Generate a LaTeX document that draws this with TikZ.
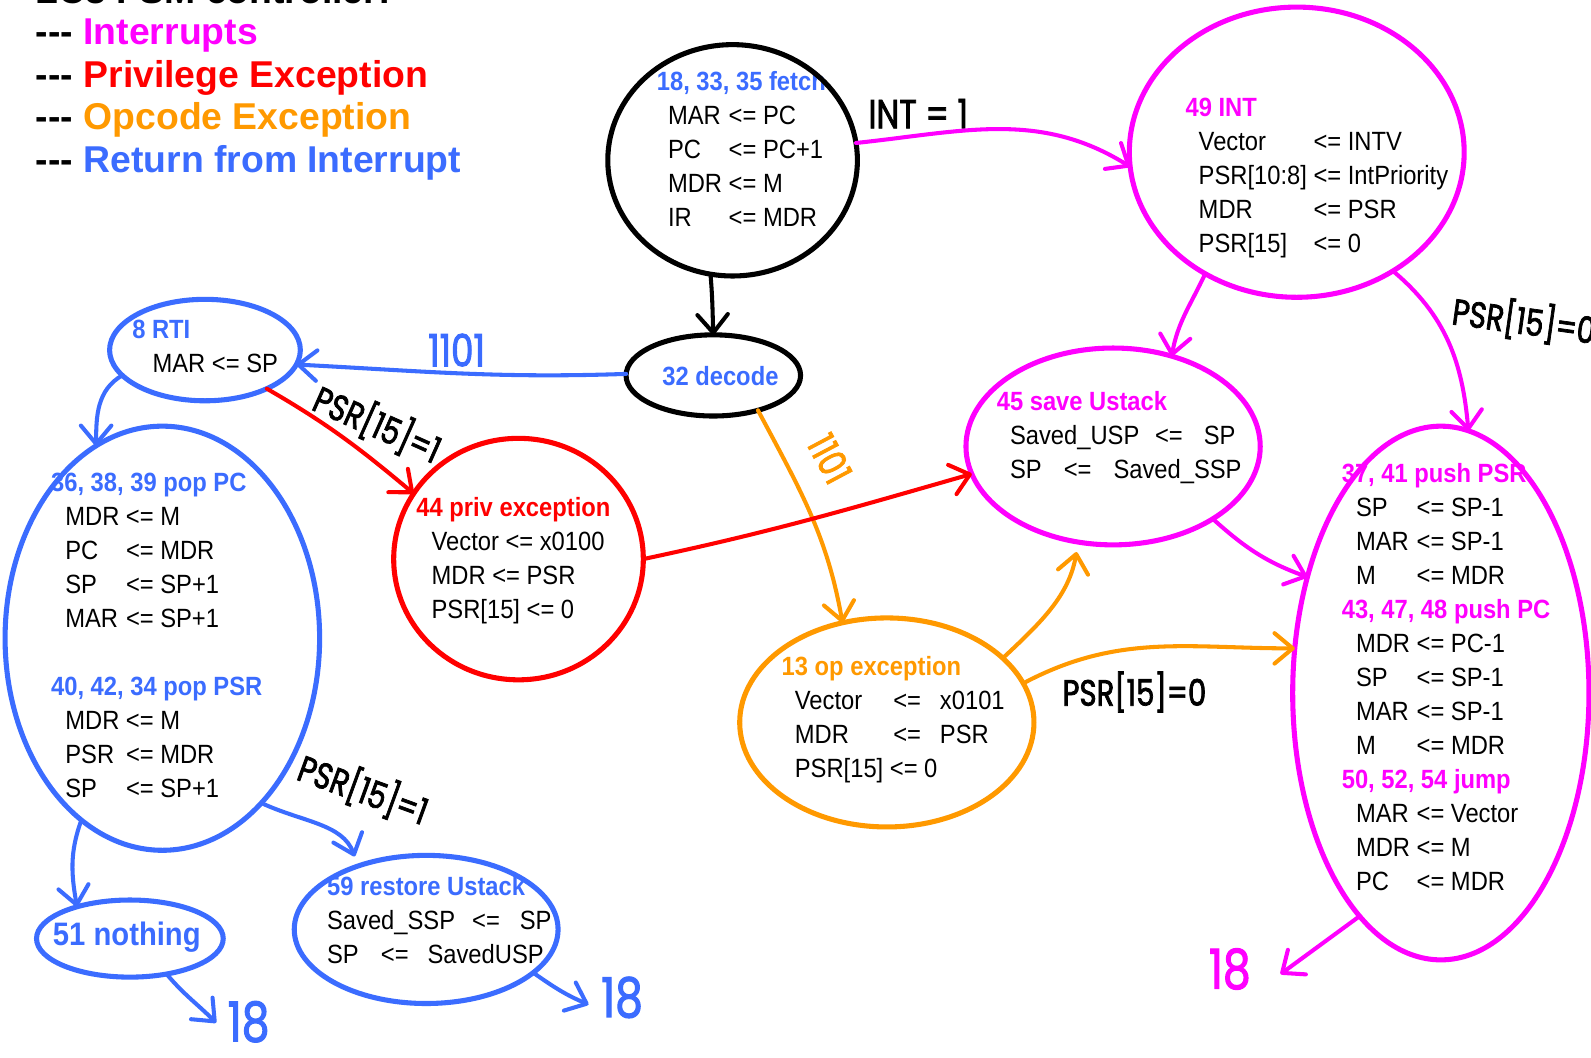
\documentclass[tikz,border=0pt]{standalone}
\usepackage{fontspec}
\setmainfont{Liberation Sans}[FakeStretch=0.9]
\newfontfamily\legendfont{Liberation Sans}
\newfontfamily\handfont{Poppins}[FakeStretch=0.8,FakeBold=2]
\usetikzlibrary{shapes.geometric,arrows.meta}
\definecolor{cmag}{RGB}{255,0,255}
\definecolor{cred}{RGB}{255,0,0}
\definecolor{corg}{RGB}{255,153,0}
\definecolor{cblu}{RGB}{59,108,255}
\newcommand\bodyfont{\fontsize{13}{16.75}\selectfont}
\newcommand\hd[2]{\textcolor{#1}{\bfseries #2}}
\newcommand\asg[5]{\makebox[#1][l]{#3}\makebox[#2][l]{#4}#5}
\newcommand\dashes{-\kern0pt-\kern0pt-}
\begin{document}
\begin{tikzpicture}[x=0.5pt,y=-0.5pt,
  fsm/.style={ellipse, draw=#1, line width=2.5pt, inner sep=0pt, outer sep=0pt},
  body/.style={inner sep=0pt, anchor=base west, font=\bodyfont},
  conn/.style={draw=#1, line width=2pt, line cap=round, line join=round,
    -{Straight Barb[length=9pt,width=15pt,round]}},
  hw/.style={inner sep=0pt, font=\handfont\fontsize{#1}{#1}\selectfont},
  legend/.style={inner sep=0pt, anchor=base west, font=\legendfont\bfseries\fontsize{18.4}{21}\selectfont}]
\useasboundingbox (0,0) rectangle (1568,1042);
\fill[white] (0,0) rectangle (1568,1042);

% legend
\node[legend] (title) at (35,3) {LC3 FSM controller:};
\node[legend] (lgint) at (35,44.3) {\dashes\ \textcolor{cmag}{Interrupts}};
\node[legend] (lgpriv) at (35,86.7) {\dashes\ \textcolor{cred}{Privilege Exception}};
\node[legend] (lgop) at (35,128.1) {\dashes\ \textcolor{corg}{Opcode Exception}};
\node[legend] (lgrti) at (35,170.5) {\dashes\ \textcolor{cblu}{Return from Interrupt}};

% state contents
\node[body] (fetchtx) at (647,89) {\begin{tabular}[t]{@{\hspace{5.5pt}}l@{ }l@{}}
\multicolumn{2}{@{}l@{}}{\hd{cblu}{18, 33, 35 fetch}}\\
MAR & <= PC\\ PC & <= PC+1\\ MDR & <= M\\ IR & <= MDR
\end{tabular}};

\node[body] (inttx) at (1168,115) {\begin{tabular}[t]{@{\hspace{6.5pt}}l@{ }l@{}}
\multicolumn{2}{@{}l@{}}{\hd{cmag}{49 INT}}\\
Vector & <= INTV\\ PSR[10:8] & <= IntPriority\\ MDR & <= PSR\\ PSR[15] & <= 0
\end{tabular}};

\node[inner sep=0pt, font=\bodyfont\bfseries, text=cblu] (dectx) at (710,371) {32 decode};

\node[body] (rtitx) at (130,334) {\begin{tabular}[t]{@{\hspace{10pt}}l@{}}
\multicolumn{1}{@{}l@{}}{\hd{cblu}{8 RTI}}\\
MAR <= SP
\end{tabular}};

\node[body] (poptx) at (50,484) {\begin{tabular}[t]{@{\hspace{7pt}}l@{ }l@{}}
\multicolumn{2}{@{}l@{}}{\hd{cblu}{36, 38, 39 pop PC}}\\
MDR & <= M\\ PC & <= MDR\\ SP & <= SP+1\\ MAR & <= SP+1\\
\multicolumn{2}{@{}l@{}}{}\\
\multicolumn{2}{@{}l@{}}{\hd{cblu}{40, 42, 34 pop PSR}}\\
MDR & <= M\\ PSR & <= MDR\\ SP & <= SP+1
\end{tabular}};

\node[body] (privtx) at (410,509) {\begin{tabular}[t]{@{\hspace{7.5pt}}l@{}}
\multicolumn{1}{@{}l@{}}{\hd{cred}{44 priv exception}}\\
Vector <= x0100\\ MDR <= PSR\\ PSR[15] <= 0
\end{tabular}};

\node[body] (savetx) at (982,405) {\begin{tabular}[t]{@{\hspace{6.5pt}}l@{}}
\multicolumn{1}{@{}l@{}}{\hd{cmag}{45 save Ustack}}\\
\asg{71.5pt}{24pt}{Saved\_USP}{<=}{SP}\\
\asg{26.5pt}{24.5pt}{SP}{<=}{Saved\_SSP}
\end{tabular}};

\node[body] (optx) at (770,666) {\begin{tabular}[t]{@{\hspace{6.5pt}}l@{}}
\multicolumn{1}{@{}l@{}}{\hd{corg}{13 op exception}}\\
\asg{48.5pt}{23pt}{Vector}{<=}{x0101}\\
\asg{48.5pt}{23pt}{MDR}{<=}{PSR}\\
PSR[15] <= 0
\end{tabular}};

\node[body] (pushtx) at (1322,476) {\begin{tabular}[t]{@{\hspace{7pt}}l@{ }l@{}}
\multicolumn{2}{@{}l@{}}{\hd{cmag}{37, 41 push PSR}}\\
SP & <= SP-1\\ MAR & <= SP-1\\ M & <= MDR\\
\multicolumn{2}{@{}l@{}}{\hd{cmag}{43, 47, 48 push PC}}\\
MDR & <= PC-1\\ SP & <= SP-1\\ MAR & <= SP-1\\ M & <= MDR\\
\multicolumn{2}{@{}l@{}}{\hd{cmag}{50, 52, 54 jump}}\\
MAR & <= Vector\\ MDR & <= M\\ PC & <= MDR
\end{tabular}};

\node[inner sep=0pt, font=\fontsize{16}{19}\selectfont\bfseries, text=cblu] (nothtx) at (125,924) {51 nothing};

\node[body] (resttx) at (322,883) {\begin{tabular}[t]{@{}l@{}}
\hd{cblu}{59 restore Ustack}\\
\asg{71.5pt}{23.5pt}{Saved\_SSP}{<=}{SP}\\
\asg{26.5pt}{23pt}{SP}{<=}{SavedUSP}
\end{tabular}};

% states
\node[fsm=black, minimum width=123pt, minimum height=114pt] (fetch) at (722,158) {};
\node[fsm=cmag, minimum width=165pt, minimum height=143pt] (int) at (1278,150) {};
\node[fsm=black, minimum width=86pt, minimum height=40pt] (decode) at (703,370) {};
\node[fsm=cblu, minimum width=94pt, minimum height=50pt] (rti) at (202,345) {};
\node[fsm=cblu, minimum width=155pt, minimum height=209pt] (pop) at (160,629) {};
\node[fsm=cred, minimum width=123pt, minimum height=119pt] (priv) at (511,551) {};
\node[fsm=cmag, minimum width=145pt, minimum height=97pt] (save) at (1097,440) {};
\node[fsm=corg, minimum width=145pt, minimum height=103pt] (op) at (874,712) {};
\node[fsm=cmag, minimum width=146pt, minimum height=263pt] (push) at (1420,683) {};
\node[fsm=cblu, minimum width=92pt, minimum height=38pt] (nothing) at (128,925) {};
\node[fsm=cblu, minimum width=130pt, minimum height=73pt] (restore) at (420,916) {};

% hand-written labels
\node[hw=20] (lint) at (905,112) {INT = 1};
\node[hw=22, text=cblu] (lrti) at (450,345) {1101};
\node[hw=18, rotate=-24] (lpriv) at (372,418) {PSR[15]=1};
\node[hw=19, text=corg, rotate=-62] (lop) at (818,452) {1101};
\node[hw=18] (lopush) at (1118,682) {PSR[15]=0};
\node[hw=18, rotate=-8] (lintpush) at (1502,316) {PSR[15]=0};
\node[hw=18, rotate=-20] (lrest) at (358,778) {PSR[15]=1};
\node[hw=27, text=cblu] (ret1) at (245,1007) {18};
\node[hw=27, text=cblu] (ret2) at (613,983) {18};
\node[hw=27, text=cmag] (ret3) at (1212,955) {18};
\coordinate (ret1in) at (213,1008);
\coordinate (ret2in) at (580,990);
\coordinate (ret3in) at (1262,960);

% transitions
\draw[conn=cmag] (fetch.8) to[out=6,in=148] (int.185);
\draw[conn=black] (fetch.-101) to[out=-85,in=92] (decode.90);
\draw[conn=cblu] (decode.179) to[out=182,in=-3] (rti.-9);
\draw[conn=cblu] (rti.-163) to[out=210,in=90] (pop.109);
\draw[conn=cred] (rti.-32) to[out=-30,in=140] (priv.148);
\draw[conn=corg] (decode.-38) to[out=-62,in=100] (op.114);
\draw[conn=cred] (priv.0) to[out=12,in=196] (save.191);
\draw[conn=corg, shorten >=5pt] (op.29) to[out=43,in=-100] (save.-110);
\draw[conn=corg] (op.16) to[out=28,in=180] (push.163);
\draw[conn=cmag] (int.-127) to[out=-115,in=80] (save.57);
\draw[conn=cmag] (int.-51) to[out=-40,in=95] (push.84);
\draw[conn=cmag] (save.-36) to[out=-42,in=160] (push.139);
\draw[conn=cmag] (push.-110) -- (ret3in);
\draw[conn=cblu] (pop.-114) to[out=-110,in=100] (nothing.149);
\draw[conn=cblu, shorten >=5pt] (pop.-59) to[out=-25,in=110] (restore.137);
\draw[conn=cblu] (nothing.-44) to[out=-50,in=135] (ret1in);
\draw[conn=cblu] (restore.-22) to[out=-35,in=157] (ret2in);
\end{tikzpicture}
\end{document}
